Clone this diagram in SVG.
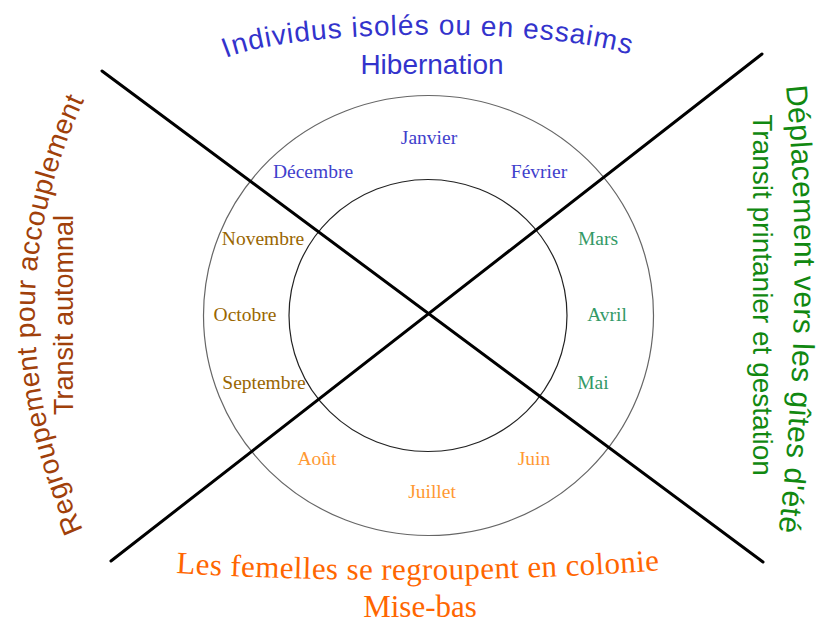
<svg xmlns="http://www.w3.org/2000/svg" xmlns:xlink="http://www.w3.org/1999/xlink" width="820" height="623" viewBox="0 0 820 623">
  <style>
    .month { font-family: "Liberation Serif", "Times New Roman", serif; font-size: 19.5px; text-anchor: middle; }
    .winter { fill: #4040CC; }
    .spring { fill: #339966; }
    .summer { fill: #FF9933; }
    .autumn { fill: #996600; }
    .sans { font-family: "Liberation Sans", Arial, sans-serif; }
    .bigserif { font-family: "Liberation Serif", "Times New Roman", serif; font-size: 31px; fill: #FF6600; }
    .ring { fill: none; }
    .axis { stroke: #000; stroke-width: 3; stroke-linecap: round; fill: none; }
  </style>
  <defs>
    <path id="arcTop" d="M 226,58 C 300,27 560,27 636,57"/>
    <path id="arcLeft" d="M 83,530 Q -15,310 86,96"/>
    <path id="arcRight" d="M 786,86 Q 806,290 779,530"/>
    <path id="arcBottom" d="M 176,573 Q 420,588 665,570"/>
  </defs>
  <rect width="820" height="623" fill="#fff"/>

  <g id="rings">
    <ellipse class="ring" cx="428.5" cy="315.5" rx="225" ry="220" stroke="#666" stroke-width="1.2"/>
    <ellipse class="ring" cx="428" cy="315.5" rx="139" ry="136" stroke="#222" stroke-width="1.2"/>
  </g>

  <g id="connectors">
    <line class="axis" x1="102" y1="71" x2="763" y2="562"/>
    <line class="axis" x1="111" y1="561" x2="762" y2="54"/>
  </g>

  <g id="months">
    <text class="month winter" x="429" y="144">Janvier</text>
    <text class="month winter" x="539" y="178">Février</text>
    <text class="month spring" x="598" y="245">Mars</text>
    <text class="month spring" x="607" y="321">Avril</text>
    <text class="month spring" x="593" y="389">Mai</text>
    <text class="month summer" x="534" y="465">Juin</text>
    <text class="month summer" x="432" y="498">Juillet</text>
    <text class="month summer" x="317" y="465">Août</text>
    <text class="month autumn" x="264" y="389">Septembre</text>
    <text class="month autumn" x="245" y="321">Octobre</text>
    <text class="month autumn" x="263" y="245">Novembre</text>
    <text class="month winter" x="313" y="178">Décembre</text>
  </g>

  <g id="season-winter" fill="#3333CC">
    <text class="sans" font-size="28" letter-spacing="1"><textPath href="#arcTop" xlink:href="#arcTop">Individus isolés ou en essaims</textPath></text>
    <text class="sans" font-size="28" x="432" y="74" text-anchor="middle">Hibernation</text>
  </g>

  <g id="season-spring" fill="#118811">
    <text class="sans" font-size="30" letter-spacing="0.4"><textPath href="#arcRight" xlink:href="#arcRight">Déplacement vers les gîtes d'été</textPath></text>
    <text class="sans" font-size="28" text-anchor="middle" transform="translate(753,295) rotate(90)">Transit printanier et gestation</text>
  </g>

  <g id="season-summer">
    <text class="bigserif" letter-spacing="0.4"><textPath href="#arcBottom" xlink:href="#arcBottom">Les femelles se regroupent en colonie</textPath></text>
    <text class="bigserif" font-size="30" x="420" y="617" text-anchor="middle">Mise-bas</text>
  </g>

  <g id="season-autumn" fill="#A0400A">
    <text class="sans" font-size="28" letter-spacing="0.45"><textPath href="#arcLeft" xlink:href="#arcLeft">Regroupement pour accouplement</textPath></text>
    <text class="sans" font-size="27" text-anchor="middle" transform="translate(73,315) rotate(-90)">Transit automnal</text>
  </g>
</svg>
